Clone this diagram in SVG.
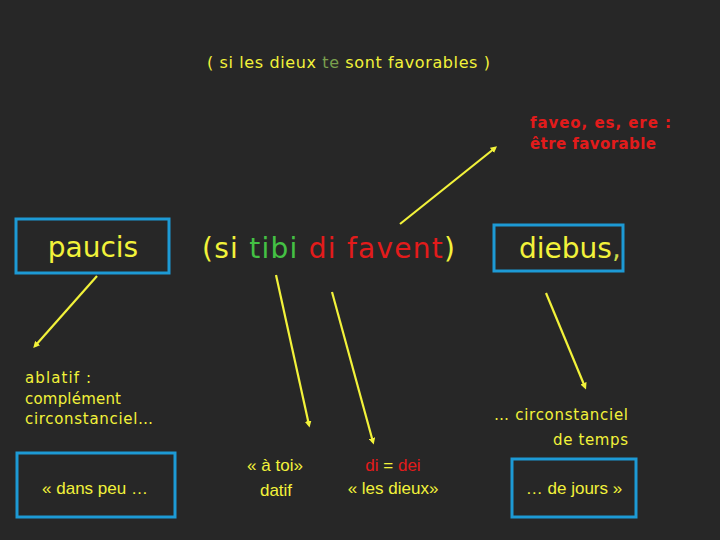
<svg xmlns="http://www.w3.org/2000/svg" width="720" height="540" viewBox="0 0 720 540">
<defs>
<style>
.y{fill:#f2f23a}
.g{fill:#44c144}
.r{fill:#e31b1b}
.s{font-family:"Liberation Sans","DejaVu Sans",sans-serif}
.d{font-family:"DejaVu Sans","Liberation Sans",sans-serif}
.b{font-weight:bold}
.box{fill:none;stroke:#1d9ad5;stroke-width:3}
.ln{stroke:#f2f23a;stroke-width:2.2;fill:none;marker-end:url(#ah)}
</style>
<marker id="ah" viewBox="0 0 10 10" refX="6" refY="5" markerWidth="3" markerHeight="3" orient="auto">
<path d="M0,0 L10,5 L0,10 z" fill="#f2f23a"/>
</marker>
</defs>
<rect width="720" height="540" fill="#272727"/>

<g id="top-note">
<text class="d y" x="207" y="68" font-size="16" textLength="283">( si les dieux <tspan fill="#7aa04e">te</tspan> sont favorables )</text>
</g>

<g id="faveo">
<text class="d b r" x="530" y="128" font-size="15" textLength="141">faveo, es, ere :</text>
<text class="d b r" x="530" y="149" font-size="15" textLength="126">être favorable</text>
</g>

<g id="paucis">
<rect class="box" x="16" y="219" width="153" height="54"/>
<text class="d y" x="93" y="257" font-size="28" text-anchor="middle">paucis</text>
</g>

<g id="phrase">
<text class="d y" x="202" y="258" font-size="28" textLength="253">(si <tspan class="g">tibi</tspan> <tspan class="r">di favent</tspan>)</text>
</g>

<g id="diebus">
<rect class="box" x="494" y="225" width="129" height="46"/>
<text class="d y" x="519" y="258" font-size="28">diebus<tspan fill="#c8d84a">,</tspan></text>
</g>

<g id="ablatif">
<text class="d y" x="25" y="383" font-size="15" textLength="66">ablatif :</text>
<text class="d y" x="25" y="404" font-size="15" textLength="96">complément</text>
<text class="d y" x="25" y="424" font-size="15" textLength="128">circonstanciel…</text>
</g>

<g id="circ-temps">
<text class="d y" x="494" y="420" font-size="15" textLength="134">… circonstanciel</text>
<text class="d y" x="553" y="445" font-size="15" textLength="75">de temps</text>
</g>

<g id="dans-peu">
<rect class="box" x="17" y="453" width="158" height="64"/>
<text class="s y" x="95" y="494" font-size="17" text-anchor="middle">« dans peu …</text>
</g>

<g id="a-toi">
<text class="s y" x="275" y="471" font-size="17" text-anchor="middle">« à toi»</text>
<text class="s y" x="276" y="496" font-size="17" text-anchor="middle">datif</text>
</g>

<g id="di-dei">
<text class="s y" x="393" y="471" font-size="17" text-anchor="middle"><tspan class="r">di</tspan> = <tspan class="r">dei</tspan></text>
<text class="s y" x="393" y="494" font-size="17" text-anchor="middle">« les dieux»</text>
</g>

<g id="de-jours">
<rect class="box" x="512" y="459" width="124" height="58"/>
<text class="s y" x="574" y="494" font-size="17" text-anchor="middle">… de jours »</text>
</g>

<g id="connectors">
<line class="ln" x1="97" y1="276" x2="35" y2="346"/>
<line class="ln" x1="400" y1="224" x2="495" y2="148"/>
<line class="ln" x1="276" y1="275" x2="309" y2="425"/>
<line class="ln" x1="332" y1="292" x2="373" y2="442"/>
<line class="ln" x1="546" y1="293" x2="585" y2="387"/>
</g>
</svg>
